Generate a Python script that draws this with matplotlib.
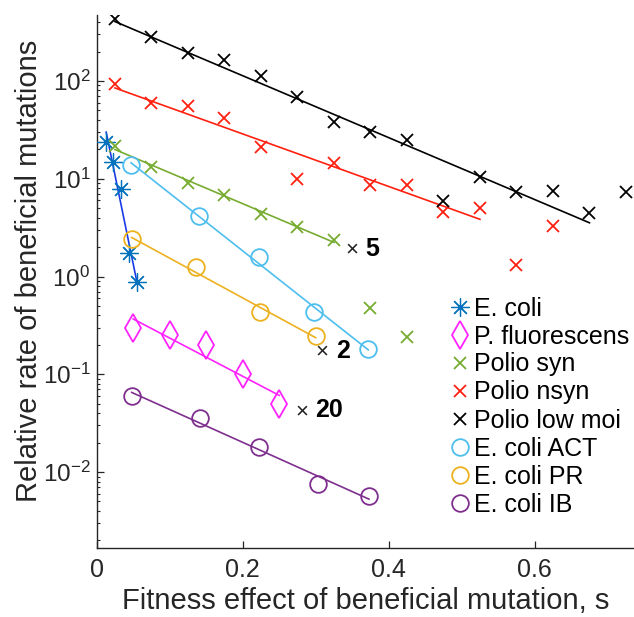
#!/usr/bin/env python3
''' beneficial mutation rate vs fitness effect, log scale '''
import numpy as np
import matplotlib
matplotlib.use('Agg')
import matplotlib.pyplot as plt
from matplotlib.ticker import LogLocator, NullFormatter, FixedLocator

plt.rcParams['font.family'] = ['Liberation Sans', 'DejaVu Sans']
plt.rcParams['mathtext.fontset'] = 'custom'
plt.rcParams['mathtext.rm'] = 'Liberation Sans'
plt.rcParams['mathtext.it'] = 'Liberation Sans:italic'

# ---- data ----
ecoli_s = [0.013, 0.023, 0.033, 0.044, 0.055]
ecoli_v = [24, 15, 7.8, 1.76, 0.87]

pfl_s = [0.05, 0.10, 0.15, 0.20, 0.25]
pfl_v = [0.30, 0.25, 0.20, 0.10, 0.05]

polio_syn_s = [0.025, 0.075, 0.125, 0.175, 0.225, 0.275, 0.325, 0.375, 0.425]
polio_syn_v = [21.5, 13.3, 9.0, 6.9, 4.4, 3.2, 2.35, 0.48, 0.24]

polio_nsyn_s = [0.025, 0.075, 0.125, 0.175, 0.225, 0.275, 0.325, 0.375, 0.425,
                0.475, 0.525, 0.575, 0.625]
polio_nsyn_v = [94, 60, 55, 42, 21, 9.9, 14.4, 8.7, 8.6, 4.6, 5.0, 1.3, 3.3]

polio_low_s = [0.025, 0.075, 0.125, 0.175, 0.225, 0.275, 0.325, 0.375, 0.425,
               0.475, 0.525, 0.575, 0.625, 0.675, 0.725]
polio_low_v = [430, 284, 192, 164, 112, 68, 38, 30, 25, 5.9, 10.3, 7.4, 7.5,
               4.5, 7.4]

act_s = [0.047, 0.140, 0.223, 0.297, 0.372]
act_v = [13.8, 4.2, 1.57, 0.43, 0.18]

pr_s = [0.048, 0.136, 0.224, 0.300]
pr_v = [2.4, 1.24, 0.43, 0.246]

ib_s = [0.048, 0.142, 0.223, 0.303, 0.373]
ib_v = [0.060, 0.036, 0.018, 0.0075, 0.0057]

# scaling notes written next to the data
notes = [('5', 0.349, 1.87), ('2', 0.309, 0.170), ('20', 0.281, 0.0414)]

# series: name, s, v, marker, colour, line colour, points used in the fit
series = [
    ('E. coli', ecoli_s, ecoli_v, (8, 2, 0), '#0072BD', '#1a3ae6', 5),
    ('P. fluorescens', pfl_s, pfl_v, 'd', '#FF22FF', '#FF22FF', 5),
    ('Polio syn', polio_syn_s, polio_syn_v, 'x', '#77AC30', '#77AC30', 7),
    ('Polio nsyn', polio_nsyn_s, polio_nsyn_v, 'x', '#FF2010', '#FF2010', 11),
    ('Polio low moi', polio_low_s, polio_low_v, 'x', 'k', 'k', 14),
    ('E. coli ACT', act_s, act_v, 'o', '#4DBEEE', '#4DBEEE', 5),
    ('E. coli PR', pr_s, pr_v, 'o', '#EDB120', '#EDB120', 4),
    ('E. coli IB', ib_s, ib_v, 'o', '#7E2F8E', '#7E2F8E', 5),
]

msize = {'o': 12, 'd': 14, 'x': 9}
mwidth = {'o': 1.3, 'd': 1.3, 'x': 1.3}

fig = plt.figure(figsize=(6.34, 6.17), dpi=100)
ax = fig.add_axes([0.1525, 0.1118, 0.8475, 0.8639])

for name, s, v, mk, col, lcol, nfit in series:
    s = np.asarray(s)
    v = np.asarray(v)
    # exponential fit on the first nfit points
    p = np.polyfit(s[:nfit], np.log10(v[:nfit]), 1)
    xs = np.array([s[0], s[nfit-1]])
    ax.plot(xs, 10**np.polyval(p, xs), '-', color=lcol, lw=1.2, zorder=2)
    ms = msize.get(mk, 13)
    mw = mwidth.get(mk, 0.9)
    ax.plot(s, v, linestyle='none', marker=mk, ms=ms, mfc='none', mec=col,
            mew=mw, label=name, zorder=3)

for num, sx, vy in notes:
    ax.text(sx, vy, '\u00d7', fontsize=16, color='#222222', ha='center',
            va='center')
    ax.text(sx + 0.0185, vy * 1.03, num, fontsize=18, fontweight='bold',
            ha='left', va='center')

ax.set_yscale('log')
ax.set_xlim(0, 0.736)
ax.set_ylim(10**-2.777, 10**2.675)

ax.xaxis.set_major_locator(FixedLocator([0, 0.2, 0.4, 0.6]))
ax.set_xticklabels(['0', '0.2', '0.4', '0.6'])
ax.yaxis.set_major_locator(LogLocator(base=10, numticks=10))
ax.yaxis.set_minor_locator(LogLocator(base=10, subs=np.arange(2, 10), numticks=20))
ax.yaxis.set_minor_formatter(NullFormatter())

for sp in ['top', 'right']:
    ax.spines[sp].set_visible(False)
for sp in ['left', 'bottom']:
    ax.spines[sp].set_color('#262626')
    ax.spines[sp].set_linewidth(1.0)
ax.tick_params(which='both', direction='in', colors='#262626', labelsize=18,
               labelcolor='#262626')
ax.tick_params(which='major', length=5, width=0.9, pad=7)
ax.tick_params(axis='y', which='major', labelsize=17.5, pad=4.5)
ax.tick_params(which='minor', length=2.5, width=0.8)

ax.set_xlabel('Fitness effect of beneficial mutation, s', fontsize=21,
              color='#262626', labelpad=4)
ax.set_ylabel('Relative rate of beneficial mutations', fontsize=21,
              color='#262626')
ax.yaxis.set_label_coords(-0.1, 0.52)

ax.legend(loc='upper left', bbox_to_anchor=(450/634, 1 - 296.5/617),
          bbox_transform=fig.transFigure, frameon=False, fontsize=18,
          handlelength=0.8, handletextpad=0.15, labelspacing=0.16,
          borderpad=0, borderaxespad=0, numpoints=1)

fig.savefig('out.png', dpi=100)
